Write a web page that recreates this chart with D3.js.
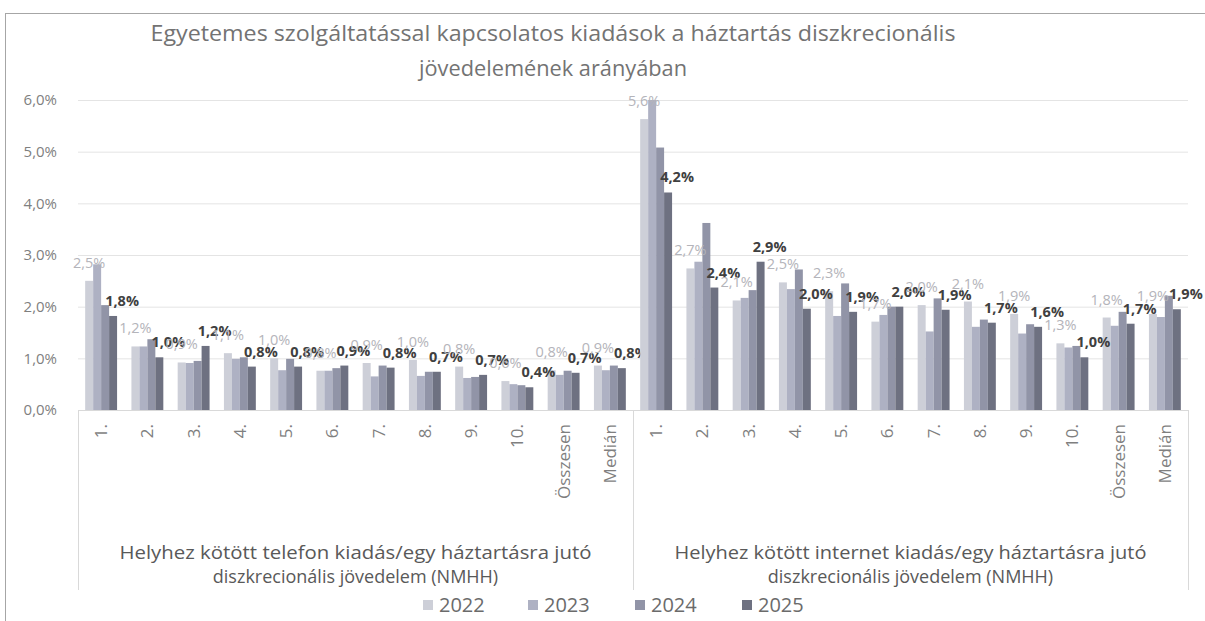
<!DOCTYPE html>
<html><head><meta charset="utf-8">
<script src="https://cdn.jsdelivr.net/npm/d3@7"></script>
<style>body{margin:0;background:#fff}svg{display:block}text{font-family:"Open Sans",sans-serif}</style>
</head><body>
<script>
const groups = ["Helyhez kötött telefon kiadás/egy háztartásra jutó|diszkrecionális jövedelem (NMHH)",
                "Helyhez kötött internet kiadás/egy háztartásra jutó|diszkrecionális jövedelem (NMHH)"];
const categories = ["1.","2.","3.","4.","5.","6.","7.","8.","9.","10.","Összesen","Medián"];
const seriesNames = ["2022","2023","2024","2025"];
const yTicks = [0,1,2,3,4,5,6];

const phone2022 = [2.5,1.23,0.92,1.1,1.0,0.76,0.91,0.97,0.84,0.56,0.77,0.86];
const phone2023 = [2.82,1.23,0.91,0.99,0.77,0.76,0.65,0.66,0.62,0.50,0.68,0.77];
const phone2024 = [2.03,1.37,0.95,1.02,0.99,0.81,0.86,0.74,0.64,0.48,0.76,0.86];
const phone2025 = [1.82,1.02,1.24,0.84,0.84,0.86,0.82,0.74,0.68,0.44,0.72,0.81];

const net2022 = [5.63,2.74,2.12,2.47,2.3,1.71,2.03,2.1,1.86,1.29,1.79,1.86];
const net2023 = [6.0,2.87,2.17,2.34,1.82,1.84,1.52,1.61,1.48,1.21,1.63,1.8];
const net2024 = [5.08,3.62,2.32,2.72,2.45,2.0,2.16,1.75,1.66,1.24,1.90,2.21];
const net2025 = [4.21,2.37,2.87,1.96,1.9,2.0,1.94,1.69,1.61,1.02,1.67,1.95];

const values = [[phone2022,phone2023,phone2024,phone2025],[net2022,net2023,net2024,net2025]];
const colors = ["#cdcfd8","#aeb1c3","#9194a7","#6e7181"];

const W=1205,H=621;
const svg=d3.select("body").append("svg").attr("width",W).attr("height",H);

svg.append("rect").attr("x",5.5).attr("y",13.5).attr("width",W).attr("height",H).attr("fill","none").attr("stroke","#a6a6a6");

const x0=d3.scaleBand().domain(d3.range(groups.length)).range([78,1188]);
const x1=d3.scaleBand().domain(categories).range([0,x0.bandwidth()]);
const xs=d3.scaleBand().domain(seriesNames).range([0,x1.bandwidth()]).paddingOuter(0.9);
const y=d3.scaleLinear().domain([0,6]).range([410,100]);
const fmt=v=>v.toFixed(1).replace(".",",")+"%";

// title
svg.append("text").attr("x",553).attr("y",41).attr("text-anchor","middle").attr("fill","#737373")
  .style("font-size","21px").attr("textLength",805).attr("lengthAdjust","spacingAndGlyphs")
  .text("Egyetemes szolgáltatással kapcsolatos kiadások a háztartás diszkrecionális");
svg.append("text").attr("x",553).attr("y",76).attr("text-anchor","middle").attr("fill","#737373")
  .style("font-size","21px").attr("textLength",268).attr("lengthAdjust","spacingAndGlyphs")
  .text("jövedelemének arányában");

// grid
svg.append("g").selectAll("line").data(yTicks.filter(t=>t>0)).join("line")
  .attr("x1",78).attr("x2",1188).attr("y1",d=>y(d)+0.5).attr("y2",d=>y(d)+0.5)
  .attr("stroke","#e4e4e4");
// y axis
const ya=svg.append("g").attr("transform","translate(78,0)")
  .call(d3.axisLeft(y).tickValues(yTicks).tickFormat(d=>d.toFixed(1).replace(".",",")+"%").tickSize(0).tickPadding(21));
ya.select(".domain").remove();
ya.selectAll("text").attr("fill","#7f7f7f").style("font-size","15px").style("font-family","Open Sans");

// bars
const gG=svg.append("g").selectAll("g").data(values).join("g").attr("transform",(d,i)=>`translate(${x0(i)},0)`);
gG.each(function(ser,gi){
  const g=d3.select(this);
  categories.forEach((c,ci)=>{
    seriesNames.forEach((s,si)=>{
      const v=ser[si][ci];
      g.append("rect").attr("x",x1(c)+xs(s)).attr("width",xs.bandwidth()).attr("y",y(v)).attr("height",y(0)-y(v)).attr("fill",colors[si]);
    });
  });
  categories.forEach((c,ci)=>{
    const v0=ser[0][ci];
    g.append("text").attr("x",x1(c)+xs("2022")+xs.bandwidth()/2).attr("y",y(v0)-13).attr("text-anchor","middle")
      .attr("fill","#b4b4ba").style("font-size","14.5px").text(fmt(v0));
    const v3=ser[3][ci];
    g.append("text").attr("x",x1(c)+xs("2025")+xs.bandwidth()/2+9).attr("y",y(v3)-10).attr("text-anchor","middle")
      .attr("fill","#404040").style("font-size","14.5px").style("font-weight","bold").text(fmt(v3));
  });
  g.selectAll("text.cat").data(categories).join("text").attr("class","cat")
    .attr("transform",d=>`translate(${x1(d)+x1.bandwidth()/2+6},424) rotate(-90)`)
    .attr("text-anchor","end").attr("fill","#7f7f7f").style("font-size","17px").text(d=>d);
  const parts=groups[gi].split("|");
  parts.forEach((p,pi)=>{
    const t=g.append("text").attr("x",x0.bandwidth()/2).attr("y",559+pi*24).attr("text-anchor","middle")
      .attr("fill","#595959").style("font-size","18px").text(p);
    if(pi===0) t.attr("textLength",472).attr("lengthAdjust","spacingAndGlyphs");
  });
});

svg.append("line").attr("x1",78).attr("x2",1188).attr("y1",y(0)+0.5).attr("y2",y(0)+0.5).attr("stroke","#d9d9d9");
[78,632,1188].forEach(xv=>{
  const xx=Math.round(xv===632?x0(1):xv)+0.5;
  svg.append("line").attr("x1",xx).attr("x2",xx).attr("y1",410).attr("y2",590).attr("stroke","#d9d9d9");
});

// legend
const legX=[423,528,635,742];
const lg=svg.append("g");
seriesNames.forEach((s,i)=>{
  lg.append("rect").attr("x",legX[i]).attr("y",600).attr("width",10).attr("height",10).attr("fill",colors[i]);
  lg.append("text").attr("x",legX[i]+16).attr("y",612).attr("fill","#6b6b6b").style("font-size","20px").text(s);
});
</script>
</body></html>
